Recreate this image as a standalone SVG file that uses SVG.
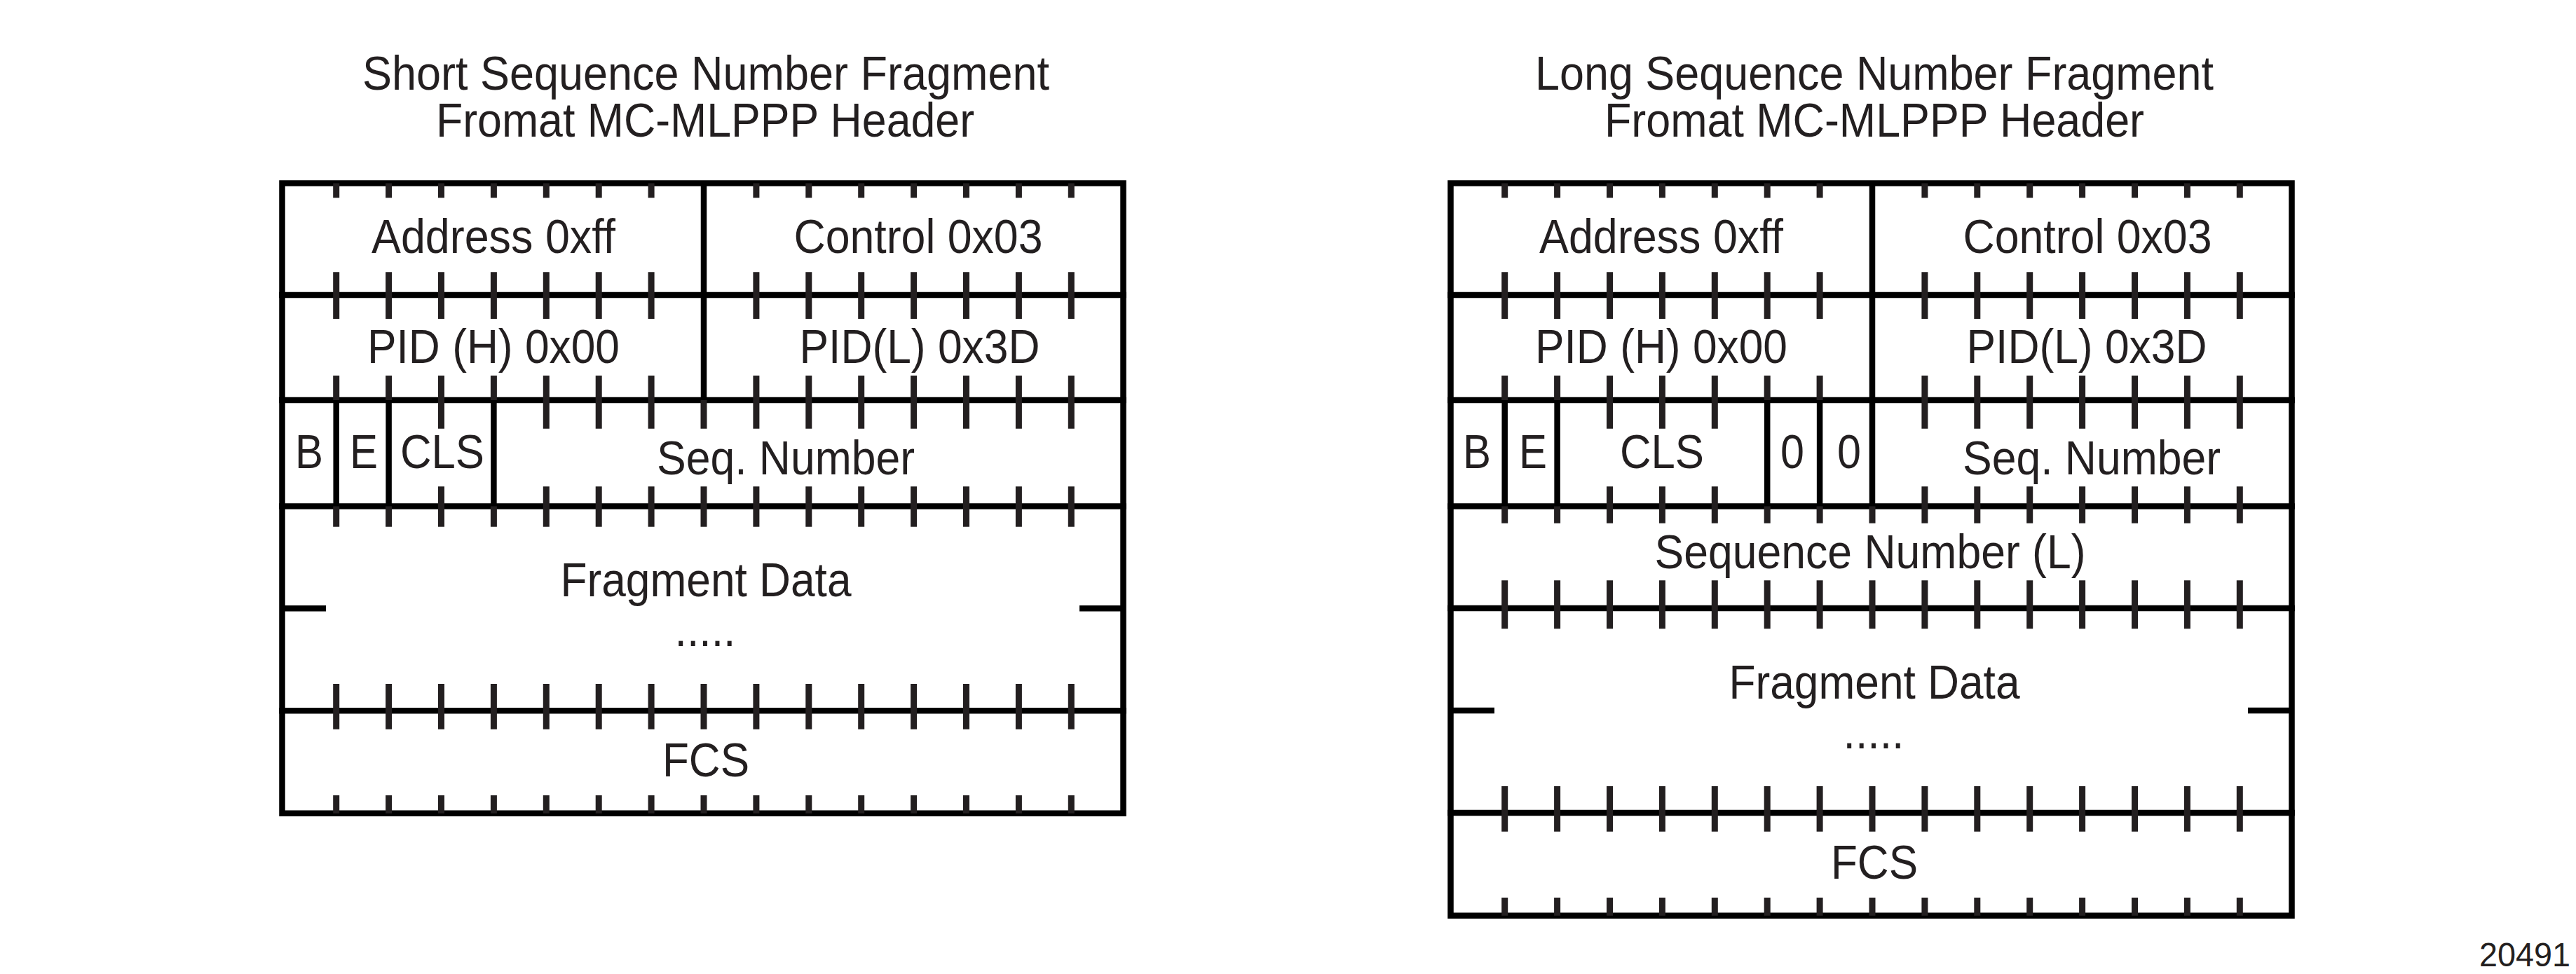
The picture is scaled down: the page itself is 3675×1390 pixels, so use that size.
<svg xmlns="http://www.w3.org/2000/svg" width="3675" height="1390" viewBox="0 0 3675 1390">
<style>
.bg{fill:#ffffff}
.line{stroke:#000000;stroke-width:8.5;fill:none;stroke-linecap:square}
.div{stroke:#000000;stroke-width:8.5;fill:none}
.tick{stroke:#231f20;stroke-width:9;fill:none}
.mark{stroke:#000000;stroke-width:8.5;fill:none}
text{font-family:"Liberation Sans",Arial,Helvetica,sans-serif;font-size:68px;fill:#231f20;text-anchor:middle}
.fig{font-size:49px;text-anchor:end}
</style>
<rect class="bg" x="0" y="0" width="3675" height="1390"/>

<g id="left-header">
  <g id="left-title">
    <text><tspan x="1007" y="128" textLength="980" lengthAdjust="spacingAndGlyphs">Short Sequence Number Fragment</tspan><tspan x="1006" y="195" textLength="768" lengthAdjust="spacingAndGlyphs">Fromat MC-MLPPP Header</tspan></text>
  </g>
  <g id="left-grid">
    <rect class="line" x="402.5" y="261.5" width="1200" height="899.2"/>
    <path class="line" d="M402.5 421H1602.5 M402.5 571H1602.5 M402.5 722.5H1602.5 M402.5 1014.2H1602.5"/>
    <path class="mark" d="M402.5 868.3H465 M1540 868.3H1602.5"/>
    <path class="div" d="M1004 261.5V571 M479.7 571V722.5 M554.6 571V722.5 M704.4 571V722.5"/>
    <path class="tick" d="M479.7 261.5V282.3 M554.6 261.5V282.3 M629.5 261.5V282.3 M704.4 261.5V282.3 M779.3 261.5V282.3 M854.2 261.5V282.3 M929.1 261.5V282.3 M1078.9 261.5V282.3 M1153.8 261.5V282.3 M1228.7 261.5V282.3 M1303.6 261.5V282.3 M1378.5 261.5V282.3 M1453.4 261.5V282.3 M1528.3 261.5V282.3"/>
    <path class="tick" d="M479.7 388.3V455 M554.6 388.3V455 M629.5 388.3V455 M704.4 388.3V455 M779.3 388.3V455 M854.2 388.3V455 M929.1 388.3V455 M1078.9 388.3V455 M1153.8 388.3V455 M1228.7 388.3V455 M1303.6 388.3V455 M1378.5 388.3V455 M1453.4 388.3V455 M1528.3 388.3V455"/>
    <path class="tick" d="M479.7 536V571 M554.6 536V571 M629.5 536V611.7 M704.4 536V571 M779.3 536V611.7 M854.2 536V611.7 M929.1 536V611.7 M1004 571V611.7 M1078.9 536V611.7 M1153.8 536V611.7 M1228.7 536V611.7 M1303.6 536V611.7 M1378.5 536V611.7 M1453.4 536V611.7 M1528.3 536V611.7"/>
    <path class="tick" d="M479.7 722.5V751.7 M554.6 722.5V751.7 M629.5 694.3V751.7 M704.4 722.5V751.7 M779.3 694.3V751.7 M854.2 694.3V751.7 M929.1 694.3V751.7 M1004 694.3V751.7 M1078.9 694.3V751.7 M1153.8 694.3V751.7 M1228.7 694.3V751.7 M1303.6 694.3V751.7 M1378.5 694.3V751.7 M1453.4 694.3V751.7 M1528.3 694.3V751.7"/>
    <path class="tick" d="M479.7 976V1040.7 M554.6 976V1040.7 M629.5 976V1040.7 M704.4 976V1040.7 M779.3 976V1040.7 M854.2 976V1040.7 M929.1 976V1040.7 M1004 976V1040.7 M1078.9 976V1040.7 M1153.8 976V1040.7 M1228.7 976V1040.7 M1303.6 976V1040.7 M1378.5 976V1040.7 M1453.4 976V1040.7 M1528.3 976V1040.7"/>
    <path class="tick" d="M479.7 1135V1160.7 M554.6 1135V1160.7 M629.5 1135V1160.7 M704.4 1135V1160.7 M779.3 1135V1160.7 M854.2 1135V1160.7 M929.1 1135V1160.7 M1004 1135V1160.7 M1078.9 1135V1160.7 M1153.8 1135V1160.7 M1228.7 1135V1160.7 M1303.6 1135V1160.7 M1378.5 1135V1160.7 M1453.4 1135V1160.7 M1528.3 1135V1160.7"/>
  </g>
  <g id="left-address"><text x="704" y="361" textLength="348" lengthAdjust="spacingAndGlyphs">Address 0xff</text></g>
  <g id="left-control"><text x="1310" y="361" textLength="355" lengthAdjust="spacingAndGlyphs">Control 0x03</text></g>
  <g id="left-pidh"><text x="704" y="518" textLength="360" lengthAdjust="spacingAndGlyphs">PID (H) 0x00</text></g>
  <g id="left-pidl"><text x="1312" y="518" textLength="343" lengthAdjust="spacingAndGlyphs">PID(L) 0x3D</text></g>
  <g id="left-b"><text x="441" y="667.5" textLength="40" lengthAdjust="spacingAndGlyphs">B</text></g>
  <g id="left-e"><text x="519" y="667.5" textLength="40" lengthAdjust="spacingAndGlyphs">E</text></g>
  <g id="left-cls"><text x="631" y="667.5" textLength="120" lengthAdjust="spacingAndGlyphs">CLS</text></g>
  <g id="left-seq"><text x="1121" y="677" textLength="368" lengthAdjust="spacingAndGlyphs">Seq. Number</text></g>
  <g id="left-fragment">
    <text x="1007" y="851" textLength="415" lengthAdjust="spacingAndGlyphs">Fragment Data</text>
    <text x="1006" y="922" textLength="87" lengthAdjust="spacingAndGlyphs">.....</text>
  </g>
  <g id="left-fcs"><text x="1007" y="1108" textLength="124" lengthAdjust="spacingAndGlyphs">FCS</text></g>
</g>

<g id="right-header">
  <g id="right-title">
    <text><tspan x="2674" y="128" textLength="968" lengthAdjust="spacingAndGlyphs">Long Sequence Number Fragment</tspan><tspan x="2674" y="195" textLength="770" lengthAdjust="spacingAndGlyphs">Fromat MC-MLPPP Header</tspan></text>
  </g>
  <g id="right-grid">
    <rect class="line" x="2069.5" y="261.5" width="1200" height="1045.2"/>
    <path class="line" d="M2069.5 421H3269.5 M2069.5 571H3269.5 M2069.5 722.5H3269.5 M2069.5 868H3269.5 M2069.5 1160H3269.5"/>
    <path class="mark" d="M2069.5 1014H2132 M3207 1014H3269.5"/>
    <path class="div" d="M2671 261.5V722.5 M2146.7 571V722.5 M2221.6 571V722.5 M2521.2 571V722.5 M2596.1 571V722.5"/>
    <path class="tick" d="M2146.7 261.5V282.3 M2221.6 261.5V282.3 M2296.5 261.5V282.3 M2371.4 261.5V282.3 M2446.3 261.5V282.3 M2521.2 261.5V282.3 M2596.1 261.5V282.3 M2745.9 261.5V282.3 M2820.8 261.5V282.3 M2895.7 261.5V282.3 M2970.6 261.5V282.3 M3045.5 261.5V282.3 M3120.4 261.5V282.3 M3195.3 261.5V282.3"/>
    <path class="tick" d="M2146.7 388.3V455 M2221.6 388.3V455 M2296.5 388.3V455 M2371.4 388.3V455 M2446.3 388.3V455 M2521.2 388.3V455 M2596.1 388.3V455 M2745.9 388.3V455 M2820.8 388.3V455 M2895.7 388.3V455 M2970.6 388.3V455 M3045.5 388.3V455 M3120.4 388.3V455 M3195.3 388.3V455"/>
    <path class="tick" d="M2146.7 536V571 M2221.6 536V571 M2296.5 536V611.7 M2371.4 536V611.7 M2446.3 536V611.7 M2521.2 536V571 M2596.1 536V571 M2745.9 536V611.7 M2820.8 536V611.7 M2895.7 536V611.7 M2970.6 536V611.7 M3045.5 536V611.7 M3120.4 536V611.7 M3195.3 536V611.7"/>
    <path class="tick" d="M2146.7 722.5V746.7 M2221.6 722.5V746.7 M2296.5 694.3V746.7 M2371.4 694.3V746.7 M2446.3 694.3V746.7 M2521.2 722.5V746.7 M2596.1 722.5V746.7 M2671 722.5V746.7 M2745.9 694.3V746.7 M2820.8 694.3V746.7 M2895.7 694.3V746.7 M2970.6 694.3V746.7 M3045.5 694.3V746.7 M3120.4 694.3V746.7 M3195.3 694.3V746.7"/>
    <path class="tick" d="M2146.7 828.3V897.3 M2221.6 828.3V897.3 M2296.5 828.3V897.3 M2371.4 828.3V897.3 M2446.3 828.3V897.3 M2521.2 828.3V897.3 M2596.1 828.3V897.3 M2671 828.3V897.3 M2745.9 828.3V897.3 M2820.8 828.3V897.3 M2895.7 828.3V897.3 M2970.6 828.3V897.3 M3045.5 828.3V897.3 M3120.4 828.3V897.3 M3195.3 828.3V897.3"/>
    <path class="tick" d="M2146.7 1122V1186.7 M2221.6 1122V1186.7 M2296.5 1122V1186.7 M2371.4 1122V1186.7 M2446.3 1122V1186.7 M2521.2 1122V1186.7 M2596.1 1122V1186.7 M2671 1122V1186.7 M2745.9 1122V1186.7 M2820.8 1122V1186.7 M2895.7 1122V1186.7 M2970.6 1122V1186.7 M3045.5 1122V1186.7 M3120.4 1122V1186.7 M3195.3 1122V1186.7"/>
    <path class="tick" d="M2146.7 1281V1306.7 M2221.6 1281V1306.7 M2296.5 1281V1306.7 M2371.4 1281V1306.7 M2446.3 1281V1306.7 M2521.2 1281V1306.7 M2596.1 1281V1306.7 M2671 1281V1306.7 M2745.9 1281V1306.7 M2820.8 1281V1306.7 M2895.7 1281V1306.7 M2970.6 1281V1306.7 M3045.5 1281V1306.7 M3120.4 1281V1306.7 M3195.3 1281V1306.7"/>
  </g>
  <g id="right-address"><text x="2370" y="361" textLength="348" lengthAdjust="spacingAndGlyphs">Address 0xff</text></g>
  <g id="right-control"><text x="2978" y="361" textLength="355" lengthAdjust="spacingAndGlyphs">Control 0x03</text></g>
  <g id="right-pidh"><text x="2370" y="518" textLength="360" lengthAdjust="spacingAndGlyphs">PID (H) 0x00</text></g>
  <g id="right-pidl"><text x="2977" y="518" textLength="343" lengthAdjust="spacingAndGlyphs">PID(L) 0x3D</text></g>
  <g id="right-b"><text x="2107" y="667.5" textLength="40" lengthAdjust="spacingAndGlyphs">B</text></g>
  <g id="right-e"><text x="2187" y="667.5" textLength="40" lengthAdjust="spacingAndGlyphs">E</text></g>
  <g id="right-cls"><text x="2371" y="667.5" textLength="120" lengthAdjust="spacingAndGlyphs">CLS</text></g>
  <g id="right-zero1"><text x="2557" y="667.5" textLength="34" lengthAdjust="spacingAndGlyphs">0</text></g>
  <g id="right-zero2"><text x="2638" y="667.5" textLength="34" lengthAdjust="spacingAndGlyphs">0</text></g>
  <g id="right-seq"><text x="2984" y="677" textLength="368" lengthAdjust="spacingAndGlyphs">Seq. Number</text></g>
  <g id="right-seql"><text x="2668" y="811" textLength="615" lengthAdjust="spacingAndGlyphs">Sequence Number (L)</text></g>
  <g id="right-fragment">
    <text x="2674" y="997" textLength="415" lengthAdjust="spacingAndGlyphs">Fragment Data</text>
    <text x="2673" y="1068" textLength="87" lengthAdjust="spacingAndGlyphs">.....</text>
  </g>
  <g id="right-fcs"><text x="2674" y="1254" textLength="124" lengthAdjust="spacingAndGlyphs">FCS</text></g>
</g>

<g id="connectors"></g>

<g id="figure-number"><text class="fig" x="3667" y="1379" textLength="130" lengthAdjust="spacingAndGlyphs">20491</text></g>
</svg>
